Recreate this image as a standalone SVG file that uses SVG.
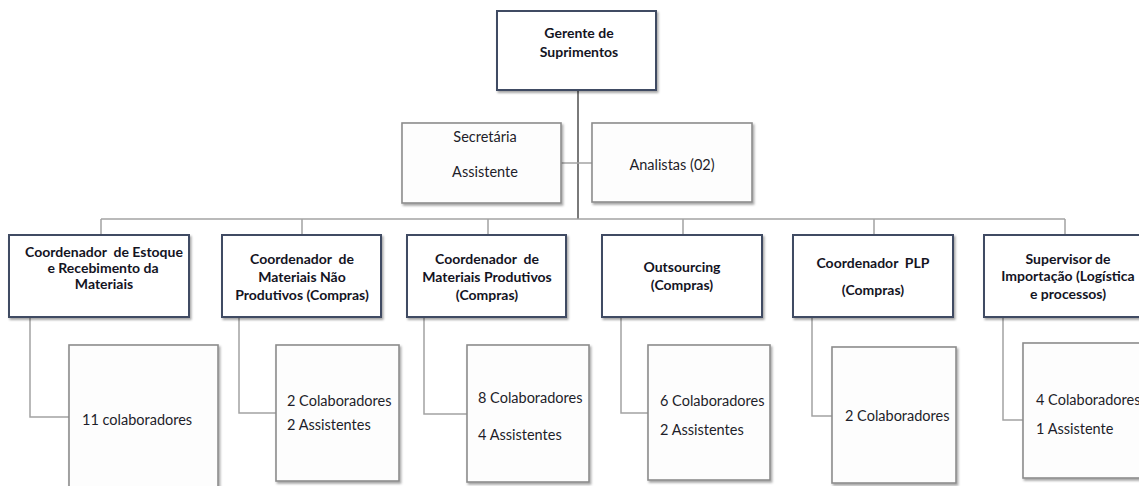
<svg xmlns="http://www.w3.org/2000/svg" width="1139" height="486" viewBox="0 0 1139 486">
<style>
.bg{fill:#ffffff}
.main{fill:#ffffff;stroke:#3f4c63;stroke-width:2;filter:url(#sh)}
.sub{fill:#fdfdfd;stroke:#8c8c8c;stroke-width:1.6;filter:url(#sh)}
.ln{fill:none;stroke:#a3a3a3;stroke-width:1.5}
.trunk{fill:none;stroke:#7a7a7a;stroke-width:2}
.b{font-family:Lato,"Liberation Sans",sans-serif;font-weight:bold;font-size:14px;fill:#14141f;text-anchor:middle;white-space:pre}
.t{font-family:Lato,"Liberation Sans",sans-serif;font-size:14.5px;fill:#1e1e2a}
.tc{text-anchor:middle}
</style>
<defs>
<filter id="sh" x="-10%" y="-10%" width="130%" height="130%">
<feDropShadow dx="1.5" dy="2" stdDeviation="1.2" flood-color="#000" flood-opacity="0.35"/>
</filter>
</defs>
<rect class="bg" x="0" y="0" width="1139" height="486"/>
<g id="connectors">
<path class="trunk" d="M578 90 V219"/>
<path class="ln" d="M561 163 H592"/>
<path class="ln" d="M101 219 H1065"/>
<path class="ln" d="M101 219 V235 M302 219 V235 M488 219 V235 M683 219 V235 M874 219 V235 M1065 219 V235"/>
<path class="ln" d="M30 317 V417 H69"/>
<path class="ln" d="M239 317 V413 H276"/>
<path class="ln" d="M424 317 V414 H467"/>
<path class="ln" d="M621 317 V413 H648"/>
<path class="ln" d="M812 317 V416 H832"/>
<path class="ln" d="M1003 317 V420 H1023"/>
</g>
<g id="gerente">
<rect class="main" x="497" y="11" width="159" height="79"/>
<text class="b" x="579" y="38">Gerente de</text>
<text class="b" x="579" y="57">Suprimentos</text>
</g>
<g id="secretaria">
<rect class="sub" x="402" y="123" width="159" height="80"/>
<text class="t tc" x="485" y="142">Secretária</text>
<text class="t tc" x="485" y="177">Assistente</text>
</g>
<g id="analistas">
<rect class="sub" x="592" y="123" width="160" height="79"/>
<text class="t tc" x="672" y="170">Analistas (02)</text>
</g>
<g id="coord-estoque">
<rect class="main" x="9" y="235" width="180" height="82"/>
<text class="b" x="104" y="257" xml:space="preserve">Coordenador  de Estoque</text>
<text class="b" x="103" y="273">e Recebimento da</text>
<text class="b" x="104" y="289">Materiais</text>
</g>
<g id="coord-nao-produtivos">
<rect class="main" x="222" y="235" width="159" height="82"/>
<text class="b" x="302" y="264" xml:space="preserve">Coordenador  de</text>
<text class="b" x="302" y="282">Materiais Não</text>
<text class="b" x="302" y="300">Produtivos (Compras)</text>
</g>
<g id="coord-produtivos">
<rect class="main" x="407" y="235" width="159" height="82"/>
<text class="b" x="487" y="264" xml:space="preserve">Coordenador  de</text>
<text class="b" x="487" y="282">Materiais Produtivos</text>
<text class="b" x="487" y="300">(Compras)</text>
</g>
<g id="outsourcing">
<rect class="main" x="602" y="235" width="160" height="82"/>
<text class="b" x="682" y="272">Outsourcing</text>
<text class="b" x="682" y="290">(Compras)</text>
</g>
<g id="coord-plp">
<rect class="main" x="793" y="235" width="160" height="82"/>
<text class="b" x="873" y="268" xml:space="preserve">Coordenador  PLP</text>
<text class="b" x="873" y="295">(Compras)</text>
</g>
<g id="supervisor-importacao">
<rect class="main" x="984" y="235" width="162" height="82"/>
<text class="b" x="1068" y="264">Supervisor de</text>
<text class="b" x="1068" y="281">Importação (Logística</text>
<text class="b" x="1068" y="299">e processos)</text>
</g>
<g id="equipe-estoque">
<rect class="sub" x="69" y="345" width="149" height="150"/>
<text class="t" x="82" y="425">11 colaboradores</text>
</g>
<g id="equipe-nao-produtivos">
<rect class="sub" x="276" y="345" width="123" height="136"/>
<text class="t" x="287" y="406">2 Colaboradores</text>
<text class="t" x="287" y="430">2 Assistentes</text>
</g>
<g id="equipe-produtivos">
<rect class="sub" x="467" y="345" width="122" height="137"/>
<text class="t" x="478" y="403">8 Colaboradores</text>
<text class="t" x="478" y="440">4 Assistentes</text>
</g>
<g id="equipe-outsourcing">
<rect class="sub" x="648" y="345" width="122" height="135"/>
<text class="t" x="660" y="406">6 Colaboradores</text>
<text class="t" x="660" y="435">2 Assistentes</text>
</g>
<g id="equipe-plp">
<rect class="sub" x="832" y="347" width="124" height="136"/>
<text class="t" x="845" y="421">2 Colaboradores</text>
</g>
<g id="equipe-importacao">
<rect class="sub" x="1023" y="343" width="124" height="135"/>
<text class="t" x="1036" y="405">4 Colaboradores</text>
<text class="t" x="1036" y="434">1 Assistente</text>
</g>
</svg>
